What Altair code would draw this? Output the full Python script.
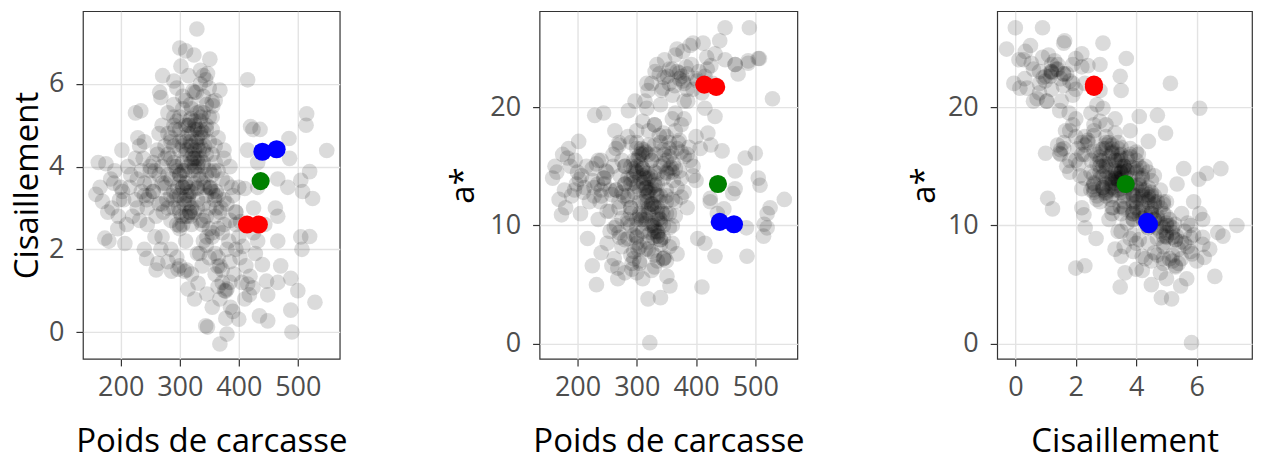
import altair as alt
import pandas as pd

# (poids de carcasse, cisaillement, a*) per animal, grouped by region of the cloud
high_a = [(490,0.0,26.7),(449,0.9,26.7),(412,1.6,25.4),(390,0.5,25.2),(368,-0.29,24.9),(378,0.33,24.7),
          (347,0.12,24.0),(334,1.9,23.6),(432,2.2,24.5),(466,1.2,23.6),(471,1.6,22.8),(488,0.53,23.7),
          (507,2.0,24.1),(529,0.72,20.7),(319,2.8,21.4),(342,3.5,21.4),(317,2.9,19.9),(286,1.47,19.7),
          (244,1.78,19.5),(432,4.1,19.2),(229,4.7,19.3),(400,0.31,22.4),(435,0.39,21.6),(380,-0.05,22.0),
          (368,0.8,23.0),(346,0.92,22.5),(378,0.99,22.2),(314,1.04,20.5),(415,1.16,22.6),(419,1.35,23.2),
          (364,1.59,21.8),(263,1.66,18.0),(331,1.18,23.0),(449,0.27,24.0),(372,1.5,22.4),(385,1.7,22.8),
          (405,1.2,23.0),(395,2.0,21.5),(360,1.4,23.2),(425,2.4,23.5),(410,0.8,21.2),(355,2.3,22.0),
          (466,2.8,23.6),(395,2.9,25.4),(505,3.67,24.1),(488,1.3,23.9),(440,1.63,25.6),(317,5.13,22.0),
          (352,3.47,22.6),(297,1.52,20.5),(344,0.15,21.6),(386,0.6,20.5),(420,4.97,17.8),(415,6.1,19.9),
          (500,1.0,16.1),(424,1.07,12.3),(447,1.23,11.4)]

low_a = [(322,5.83,0.1),(329,7.33,10.0),(300,6.87,9.1),(324,6.7,9.4),(351,6.6,5.7),(347,6.25,7.3),
         (302,6.43,8.0),(268,5.67,5.5),(368,5.85,7.6),(515,5.28,10.1),(225,5.3,6.6),(232,4.5,5.0),
         (319,5.17,3.8),(356,5.47,4.9),(410,3.47,4.8),(432,3.5,7.4),(403,2.67,8.9),(486,4.2,7.4),
         (268,2.0,6.4),(258,2.3,6.6),(340,4.83,3.9),(300,3.63,6.0),(514,5.0,9.1),(344,6.1,11.0),
         (292,4.0,6.3),(310,6.8,14.8),(335,6.33,14.4),(290,6.07,13.9),(355,5.57,14.8),(415,4.4,8.5),
         (485,4.68,9.8)]

right = [(520,3.88,11.0),(525,3.23,11.5),(549,4.39,12.2),(508,3.4,13.4),(483,3.5,15.7),(466,3.7,14.6),
         (505,2.3,14.0),(520,2.31,9.8),(466,2.2,13.1),(444,2.6,16.3),(424,4.9,12.0),(436,4.9,11.0),
         (462,3.0,12.7),(425,3.0,16.8)]

left = [(158,3.33,14.0),(169,3.16,12.2),(173,2.27,10.9),(175,4.07,16.0),(183,3.7,15.7),(202,4.4,17.1),
        (207,2.14,14.2),(195,2.5,13.0),(190,3.9,12.5),(215,3.5,15.0),(220,2.8,12.0),(225,4.2,14.8),
        (185,3.0,16.5),(234,5.35,13.5),(165,3.5,14.5),(178,2.9,13.0),(188,3.6,15.0),(196,2.8,15.5),
        (212,4.0,13.2),(162,4.1,15.0),(180,2.2,11.5),(210,2.6,12.8)]

core_c2 = [(285,2.0,17.5),(310,2.2,16.0),(330,1.9,18.5),(355,2.4,17.0),(300,2.5,14.5),(345,2.1,15.2),
           (270,2.3,16.8),(380,2.0,19.0),(320,2.6,18.0),(295,1.8,15.5),(365,2.5,19.5),(340,2.7,20.2),
           (260,1.5,16.0),(280,1.7,15.0),(300,1.6,17.0),(240,2.0,15.5),(320,1.4,16.8),(350,1.8,14.5)]

core_c3 = [(260,2.8,15.0),(280,3.0,13.5),(300,2.9,16.5),(315,3.1,14.0),(335,2.7,12.5),(350,3.0,17.5),
           (290,3.2,11.5),(325,2.9,15.5),(305,2.6,13.0),(270,3.1,17.0),(360,2.8,14.5),(375,3.2,16.2),
           (245,3.0,14.0),(340,3.1,10.5),(310,2.8,18.8),(395,2.9,15.0),(285,2.7,12.2),(330,3.2,16.8),
           (330,3.0,18.5),(360,3.3,19.0),(375,2.6,18.5)]

core_c35 = [(255,3.4,13.0),(275,3.5,15.5),(295,3.3,14.2),(310,3.6,12.0),(320,3.4,16.0),(335,3.7,13.5),
            (350,3.5,11.0),(365,3.3,14.8),(285,3.7,10.2),(300,3.8,15.0),(330,3.5,9.5),(345,3.3,17.8),
            (380,3.6,12.8),(265,3.8,16.5),(315,3.2,13.2),(325,3.9,11.8),(240,3.6,12.5),(290,3.4,17.0),
            (355,3.8,15.8),(400,3.5,13.8),(305,3.5,14.0),(340,3.6,15.0),(300,3.8,18.0)]

core_c4 = [(270,4.0,12.0),(290,4.1,13.5),(305,3.9,11.0),(318,4.2,12.8),(330,4.0,14.5),(345,4.3,10.0),
           (360,4.1,12.2),(280,4.3,15.0),(300,4.4,9.8),(335,4.2,11.5),(315,4.0,16.2),(350,3.9,13.0),
           (375,4.2,14.0),(255,4.1,11.2),(325,4.4,13.2),(310,4.3,10.8),(340,4.1,8.8),(385,4.0,11.5),
           (295,4.0,14.8),(320,3.9,9.2)]

core_c45 = [(285,4.6,10.5),(305,4.7,12.0),(320,4.5,11.0),(335,4.8,9.5),(350,4.6,12.5),(300,4.9,8.5),
            (330,4.5,13.8),(315,4.8,10.2),(345,5.0,9.0),(275,4.5,12.8),(365,4.7,10.8),(325,4.9,11.8),
            (310,4.6,14.2),(340,4.4,12.0),(290,5.0,10.0),(330,4.7,7.5),(355,4.9,8.2),(265,4.8,13.0)]

core_c5 = [(300,5.2,9.0),(320,5.4,8.0),(335,5.1,10.5),(345,5.5,7.2),(310,5.6,9.5),(330,5.3,6.5),
           (290,5.5,11.0),(355,5.2,9.8),(325,5.8,7.8),(340,5.7,10.2),(315,5.0,12.0),(305,5.4,6.8),
           (280,5.3,8.8),(360,5.6,8.5),(295,5.9,9.2),(335,6.0,7.0),(315,6.2,10.5),(350,5.9,12.0),
           (266,5.8,10.0),(271,6.2,9.0),(318,5.5,8.6),(328,5.8,9.0),(305,5.7,8.2),(340,6.2,8.4)]

lower = [(262,4.3,7.2),(280,4.8,6.0),(295,3.9,7.8),(310,5.0,5.5),(275,3.6,8.2),(305,4.5,7.0),
         (325,4.2,6.2),(290,5.2,7.5),(250,4.0,8.5),(315,3.3,8.0),(217,3.8,8.9),(240,4.6,7.7),
         (255,3.4,9.5),(235,3.9,10.5),(205,3.2,11.0),(228,3.0,12.5),(245,2.6,13.5),
         (262,4.4,9.8),(275,4.2,10.6),(285,4.7,8.9),(250,3.9,11.2),(270,5.0,9.4)]

dense = [(317,4.5,12.5),(320,4.8,11.5),(315,5.0,10.8),(322,4.3,13.0),(318,4.6,12.0),(325,5.1,10.0),
         (312,4.4,14.5),(330,4.9,9.8),(305,3.5,16.0),(300,3.3,15.5),(308,3.2,16.5),(310,3.6,14.8),
         (317,2.9,13.2),(320,3.0,12.8),(313,2.8,14.0),(346,2.3,16.0),(350,2.5,15.5),(340,2.2,17.0),
         (368,1.6,16.5),(365,1.8,18.0),(407,2.07,16.5),(400,2.3,17.5),(380,1.04,20.5),(385,1.2,21.5),
         (203,3.4,13.9),(200,3.5,14.5),(198,3.2,13.5),(244,3.2,14.0),(240,3.3,13.0),(359,3.2,16.1),
         (355,3.4,16.5),(352,3.5,14.4),(336,4.9,9.1),(340,5.3,8.8),(292,4.9,6.8),(295,5.1,7.2),
         (376,1.0,22.6),(372,1.2,22.9),(314,3.5,13.1),(308,3.9,10.5),(305,4.1,10.8),(330,3.47,11.6),
         (325,3.6,11.4),(345,4.9,7.2),(350,5.2,7.0),(335,5.33,9.1),(300,2.57,13.3),(295,2.6,13.6),
         (308,1.47,16.1),(312,1.5,16.4),(290,3.0,15.0),(285,3.3,14.0),(278,3.2,12.5),(272,2.9,14.2),
         (265,3.1,13.0),(330,4.2,13.0),(335,4.5,11.0),(340,4.0,12.5),(345,3.8,14.0),(325,4.0,15.5),
         (332,3.8,16.0),(320,4.1,14.0),(290,4.5,11.5),(285,4.2,12.5),(300,4.6,10.5),(355,4.3,11.0),
         (360,4.5,10.0),(365,3.9,12.0),(280,3.8,13.5),(270,3.6,11.5),(250,3.6,14.5),(235,3.4,15.5),
         (225,3.2,13.8),(370,3.0,17.0),(385,2.7,16.0),(390,3.3,15.5)]

dense2 = [(328,4.6,11.8),(333,4.4,12.6),(338,4.7,10.6),(326,5.0,10.2),(342,4.5,11.2),(331,4.1,13.4),
          (336,5.2,9.4),(323,4.2,14.2),(298,3.0,14.6),(303,2.8,15.8),(311,3.3,13.6),(296,3.5,12.8),
          (307,3.1,15.2),(318,3.4,14.4),(392,1.4,23.6),(402,1.8,22.2),(418,0.9,24.2),(428,1.9,22.0),
          (383,2.2,23.4),(365,1.1,24.4),(355,0.6,23.2),(338,1.6,22.8),(325,0.8,22.0),(360,1.9,21.0),
          (345,2.8,16.4),(362,3.0,15.2),(372,2.4,17.2),(338,2.6,17.6),(228,3.7,13.2),(238,4.2,12.0),
          (258,3.9,12.6),(248,3.3,14.6),(232,2.7,15.2)]

mid_right = [(362,3.4,13.8),(372,3.7,14.6),(380,3.1,15.8),(368,2.9,13.2),(358,3.9,14.9),
             (388,3.5,16.6),(395,2.6,14.2),(375,4.4,12.4)]

# highlighted animals
hl_poids = [414, 434, 440, 464, 437]
hl_cis = [2.6, 2.6, 4.36, 4.42, 3.65]
hl_astar = [21.9, 21.7, 10.3, 10.1, 13.5]
hl_color = ["#FF0000", "#FF0000", "#0000FF", "#0000FF", "#008000"]

rows = (high_a + low_a + right + left + core_c2 + core_c3 + core_c35 + core_c4 + core_c45
        + core_c5 + lower + dense + dense2 + mid_right)
gray = pd.DataFrame(rows, columns=["Poids", "Cis", "Astar"])
hl = pd.DataFrame({"Poids": hl_poids, "Cis": hl_cis, "Astar": hl_astar, "col": hl_color})

FONT = "Open Sans"
poids_dom = [136, 571]
cis_dom_y = [-0.65, 7.76]
cis_dom_x = [-0.6, 7.83]
a_dom = [-1.27, 28.1]


def axis(title, values, orient, title_x=None):
    kw = dict(title=title, values=values, grid=True, gridColor="#e3e3e3", gridWidth=1.4,
              domain=False, ticks=True, tickColor="#333333", tickSize=7, tickWidth=1.2,
              labelFont=FONT, labelFontSize=27, labelColor="#4d4d4d",
              titleFont=FONT, titleFontSize=33, titleColor="#000000", titleFontWeight="normal")
    if orient == "bottom":
        kw.update(labelBaseline="alphabetic", labelPadding=30, titleBaseline="alphabetic", titleY=93)
    else:
        kw.update(labelPadding=12, titleBaseline="alphabetic", titleX=title_x, titleY=174,
                  titleAngle=270)
    return alt.Axis(**kw)


def panel(xf, yf, xdom, ydom, xtitle, ytitle, xvals, yvals, width, tx):
    xs = alt.Scale(domain=xdom, nice=False, zero=False)
    ys = alt.Scale(domain=ydom, nice=False, zero=False)
    base_g = alt.Chart(gray).mark_circle(size=245, color="black", opacity=0.14).encode(
        x=alt.X(f"{xf}:Q", scale=xs, axis=axis(xtitle, xvals, "bottom")),
        y=alt.Y(f"{yf}:Q", scale=ys, axis=axis(ytitle, yvals, "left", tx)),
    )
    base_h = alt.Chart(hl).mark_circle(size=330, opacity=1).encode(
        x=alt.X(f"{xf}:Q", scale=xs),
        y=alt.Y(f"{yf}:Q", scale=ys),
        color=alt.Color("col:N", scale=None),
    )
    return alt.layer(base_g, base_h).properties(width=width, height=348)


p1 = panel("Poids", "Cis", poids_dom, cis_dom_y, "Poids de carcasse", "Cisaillement",
           [200, 300, 400, 500], [0, 2, 4, 6], 257, -45)
p2 = panel("Poids", "Astar", poids_dom, a_dom, "Poids de carcasse", "a*",
           [200, 300, 400, 500], [0, 10, 20], 258, -66)
p3 = panel("Cis", "Astar", cis_dom_x, a_dom, "Cisaillement", "a*",
           [0, 2, 4, 6], [0, 10, 20], 255, -63)

chart = alt.hconcat(p1, p2, p3, spacing=200, bounds="flush").properties(
    padding={"left": 3, "top": 2, "right": 0, "bottom": 0},
    background="white",
).configure_view(stroke="#333333", strokeWidth=1.2)

chart.save("out.html", embed_options={"renderer": "svg", "actions": False})
